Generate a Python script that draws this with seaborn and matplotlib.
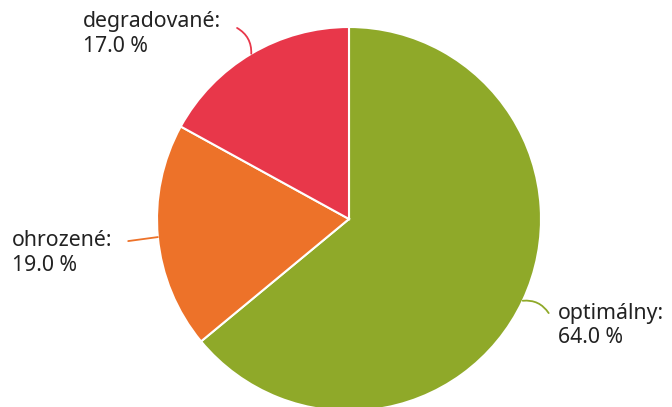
import numpy as np
import matplotlib
matplotlib.use("Agg")
import matplotlib.pyplot as plt
import seaborn as sns

# Data
categories = ["optimálny", "ohrozené", "degradované"]
shares = [64.0, 19.0, 17.0]
colors = ["#8fa929", "#ed7229", "#e8374a"]

# label layout (data coords, pie radius = 1)
label_pos = {
    "optimálny": (1.089, -0.555),
    "ohrozené": (-1.755, -0.177),
    "degradované": (-1.385, 0.964),
}
line_end = {
    "optimálny": (1.04, -0.49),
    "ohrozené": (-1.15, -0.115),
    "degradované": (-0.583, 0.995),
}
line_rad = {"optimálny": 0.3, "ohrozené": 0.0, "degradované": -0.3}

sns.set_style("white")
plt.rcParams["font.family"] = ["Noto Sans", "DejaVu Sans"]

fig = plt.figure(figsize=(6.72, 4.07), dpi=100)
ax = fig.add_axes([157 / 672, -4 / 407, 384 / 672, 384 / 407])

wedges, _ = ax.pie(shares, colors=colors, startangle=90, counterclock=False,
                   radius=1, wedgeprops={"edgecolor": "white", "linewidth": 1.5})
ax.set_xlim(-1, 1)
ax.set_ylim(-1, 1)
ax.set_aspect("equal")
ax.axis("off")

for w, cat, val, col in zip(wedges, categories, shares, colors):
    mid = np.deg2rad((w.theta1 + w.theta2) / 2)
    start = (np.cos(mid), np.sin(mid))
    ax.annotate("", xy=start, xytext=line_end[cat], annotation_clip=False,
                arrowprops=dict(arrowstyle="-", color=col, lw=1.3,
                                shrinkA=0, shrinkB=0,
                                connectionstyle=f"arc3,rad={line_rad[cat]}"))
    tx, ty = label_pos[cat]
    ax.text(tx, ty, f"{cat}:\n{val:.1f} %", ha="left", va="center",
            fontsize=15.3, color="#222222", linespacing=1.22, clip_on=False)

fig.savefig("out.png", dpi=100)
